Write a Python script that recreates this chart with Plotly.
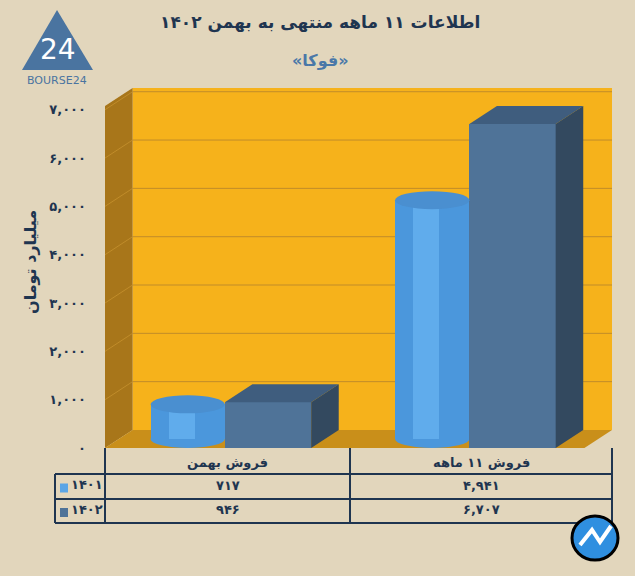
import plotly.graph_objects as go

# data
categories = ["فروش بهمن", "فروش ۱۱ ماهه"]
years = ["۱۴۰۱", "۱۴۰۲"]
sales_1401 = [717, 4941]
sales_1402 = [946, 6707]
labels_1401 = ["۷۱۷", "۴,۹۴۱"]
labels_1402 = ["۹۴۶", "۶,۷۰۷"]
tick_vals = [0, 1000, 2000, 3000, 4000, 5000, 6000, 7000]
tick_text = ["۰", "۱,۰۰۰", "۲,۰۰۰", "۳,۰۰۰", "۴,۰۰۰", "۵,۰۰۰", "۶,۰۰۰", "۷,۰۰۰"]

BG = "#e2d6bc"
NAVY = "#1f3550"
FONT = "DejaVu Sans"
DX, DY = 0.115, 373          # depth offset in data units
W = 635; H = 576
L, R, T, B = 105, 23, 88, 128


def px(x):   # pixel -> paper x
    return (x - L) / (W - L - R)


def py(y):   # pixel -> paper y
    return (H - B - y) / (H - T - B)


fig = go.Figure()
shapes = []
annos = []

# walls and floor
shapes.append(dict(type="path", layer="below", line_width=0, fillcolor="#f6b21b",
                   path=f"M{DX},{DY} L{2+DX},{DY} L{2+DX},7450 L{DX},7450 Z"))
shapes.append(dict(type="path", layer="below", line_width=0, fillcolor="#a8761a",
                   path=f"M0,0 L{DX},{DY} L{DX},7450 L0,{7450-DY} Z"))
shapes.append(dict(type="path", layer="below", line_width=0, fillcolor="#c98f1a",
                   path=f"M0,0 L2,0 L{2+DX},{DY} L{DX},{DY} Z"))
for v in tick_vals[1:]:
    shapes.append(dict(type="path", layer="below", line=dict(color="#c08c2a", width=1),
                       path=f"M0,{v} L{DX},{v+DY} L{2+DX},{v+DY}"))

# bars: cylinders (1401) and boxes (1402)
cyl_x0 = [0.19, 1.21]
cyl_w = 0.31
box_w = 0.36
fig.add_trace(go.Bar(x=[c + cyl_w / 2 for c in cyl_x0], y=sales_1401, base=[DY / 2] * 2,
                     width=cyl_w, marker=dict(color="#4b97dc", line_width=0),
                     showlegend=False, hoverinfo="skip"))
fig.add_trace(go.Bar(x=[c + cyl_w * 0.42 for c in cyl_x0], y=sales_1401, base=[DY / 2] * 2,
                     width=cyl_w * 0.35, marker=dict(color="#60acec", line_width=0),
                     showlegend=False, hoverinfo="skip"))
for x0, v in zip(cyl_x0, sales_1401):
    x1 = x0 + cyl_w
    shapes.append(dict(type="circle", layer="below", x0=x0, x1=x1, y0=0, y1=DY,
                       fillcolor="#4b97dc", line_width=0))
    shapes.append(dict(type="circle", x0=x0, x1=x1, y0=v, y1=v + DY,
                       fillcolor="#4a8fd0", line_width=0))

box_x0 = [c + cyl_w for c in cyl_x0]
fig.add_trace(go.Bar(x=[c + box_w / 2 for c in box_x0], y=sales_1402, width=box_w,
                     marker=dict(color="#4f7398", line_width=0),
                     showlegend=False, hoverinfo="skip"))
for x0, v in zip(box_x0, sales_1402):
    x1 = x0 + box_w
    shapes.append(dict(type="path", line_width=0, fillcolor="#3f5d7e",
                       path=f"M{x0},{v} L{x1},{v} L{x1+DX},{v+DY} L{x0+DX},{v+DY} Z"))
    shapes.append(dict(type="path", line_width=0, fillcolor="#33495f",
                       path=f"M{x1},0 L{x1+DX},{DY} L{x1+DX},{v+DY} L{x1},{v} Z"))

# table
tbl_x = [55, 105, 350, 612]
tbl_y = [448, 474, 499, 523]
line = dict(color=NAVY, width=2)
for x in tbl_x[1:]:
    shapes.append(dict(type="line", xref="paper", yref="paper", x0=px(x), x1=px(x),
                       y0=py(tbl_y[0]), y1=py(tbl_y[-1]), line=line))
shapes.append(dict(type="line", xref="paper", yref="paper", x0=px(tbl_x[0]), x1=px(tbl_x[0]),
                   y0=py(tbl_y[1]), y1=py(tbl_y[-1]), line=line))
for y in tbl_y[1:]:
    shapes.append(dict(type="line", xref="paper", yref="paper", x0=px(tbl_x[0]), x1=px(tbl_x[-1]),
                       y0=py(y), y1=py(y), line=line))
col_c = [(tbl_x[1] + tbl_x[2]) / 2, (tbl_x[2] + tbl_x[3]) / 2]
for i, cat in enumerate(categories):
    annos.append(dict(text=f"<b>{cat}</b>", x=px(col_c[i]), y=py(462)))
    annos.append(dict(text=f"<b>{labels_1401[i]}</b>", x=px(col_c[i]), y=py(485)))
    annos.append(dict(text=f"<b>{labels_1402[i]}</b>", x=px(col_c[i]), y=py(509)))
for j, (yr, col) in enumerate(zip(years, ["#5aa5e6", "#4f7398"])):
    yc = (tbl_y[j + 1] + tbl_y[j + 2]) / 2
    shapes.append(dict(type="rect", xref="paper", yref="paper", x0=px(60), x1=px(68),
                       y0=py(yc + 6), y1=py(yc - 3), fillcolor=col, line_width=0))
    annos.append(dict(text=f"<b>{yr}</b>", x=px(87), y=py(yc - 2)))
for a in annos:
    a.update(font=dict(family=FONT, size=13, color=NAVY))

# titles
annos.append(dict(text="<b>اطلاعات ۱۱ ماهه منتهی به بهمن ۱۴۰۲</b>", x=px(320), y=py(22),
                  font=dict(family=FONT, size=17, color=NAVY)))
annos.append(dict(text="<b>«فوکا»</b>", x=px(320), y=py(60),
                  font=dict(family=FONT, size=16, color="#4a78a8")))
annos.append(dict(text="<b>میلیارد تومان</b>", x=px(30), y=py(262), textangle=-90,
                  font=dict(family=FONT, size=16, color=NAVY)))

# logo
shapes.append(dict(type="path", xref="paper", yref="paper", line_width=0, fillcolor="#4a74a0",
                   path=f"M{px(22)},{py(70)} L{px(57)},{py(10)} L{px(93)},{py(70)} Z"))
annos.append(dict(text="24", x=px(58), y=py(50), font=dict(family=FONT, size=28, color="white")))
annos.append(dict(text="BOURSE24", x=px(57), y=py(80), font=dict(family=FONT, size=11, color="#4a74a0")))
for a in annos:
    a.update(xref="paper", yref="paper", showarrow=False, xanchor="center", yanchor="middle")
# corner icon
shapes.append(dict(type="circle", xref="paper", yref="paper", x0=px(572), x1=px(618),
                   y0=py(516), y1=py(560), fillcolor="#2f8fe0", line=dict(color="black", width=3)))
shapes.append(dict(type="path", xref="paper", yref="paper", line=dict(color="white", width=4),
                   path=f"M{px(580)},{py(545)} L{px(592)},{py(530)} L{px(600)},{py(542)} L{px(611)},{py(526)}"))

fig.update_layout(
    width=W, height=H, margin=dict(l=L, r=R, t=T, b=B),
    paper_bgcolor=BG, plot_bgcolor=BG, barmode="overlay", bargap=0,
    shapes=shapes, annotations=annos,
    xaxis=dict(range=[0, 2 + DX], showgrid=False, zeroline=False, showticklabels=False),
    yaxis=dict(range=[0, 7450], tickvals=tick_vals, ticktext=[f"<b>{t}</b>" for t in tick_text],
               showgrid=False, zeroline=False, ticklabelstandoff=18,
               tickfont=dict(family=FONT, size=13, color=NAVY)),
    font=dict(family=FONT),
)
fig.write_html("out.html", config={"displayModeBar": False},
               post_script="document.body.style.margin='0';")
